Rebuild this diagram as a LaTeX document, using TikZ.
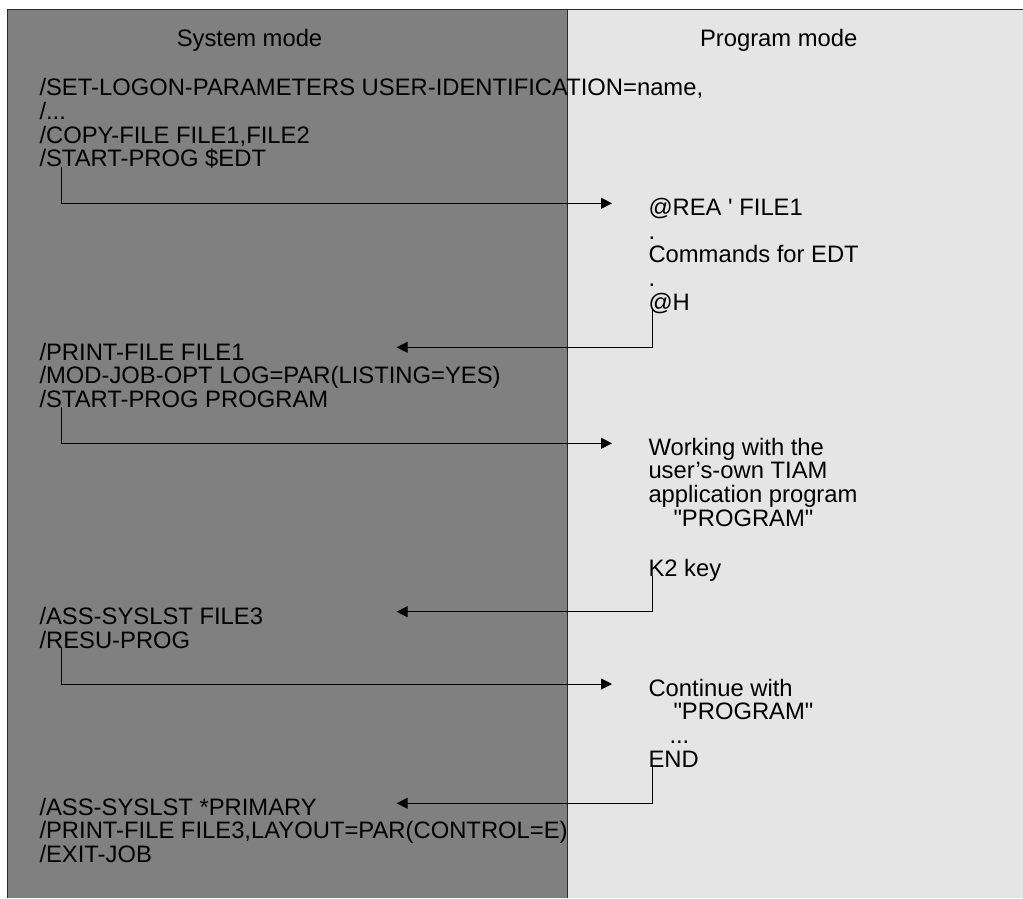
\documentclass[tikz,border=0pt]{standalone}
\usepackage{fontspec}
\setmainfont{Liberation Sans}
\usetikzlibrary{arrows.meta}
\definecolor{sysgray}{HTML}{808080}
\definecolor{proggray}{HTML}{E5E5E5}
\definecolor{rulegray}{HTML}{2A2A2A}

\begin{document}
\begin{tikzpicture}[x=1pt,y=-1pt,line width=1pt,>={Triangle[length=11pt,width=11pt]},
  txt/.style={anchor=base west,inner sep=0pt,font=\fontsize{23.8}{24}\selectfont},
  head/.style={anchor=base,inner sep=0pt,font=\fontsize{23.8}{24}\selectfont},
  flow/.style={->,line width=1pt}]
\useasboundingbox (0,0) rectangle (1023,898);
% ---------- panels ----------
\fill[sysgray] (7,9) rectangle (567,898);
\fill[proggray] (567,9) rectangle (1023,898);
\draw[rulegray,line width=1.7pt] (7,9.5) -- (1023,9.5);
\draw[rulegray,line width=1pt] (7.3,9) -- (7.3,898);
\draw[rulegray,line width=1pt] (567,9) -- (567,898);
\node[head] (sysmode) at (249.5,46.7) {System mode};
\node[head] (progmode) at (778.7,46.7) {Program mode};
% ---------- system mode commands ----------
\node[txt] (logon) at (39,95.7) {/SET-LOGON-PARAMETERS USER-IDENTIFICATION=name,};
\node[txt] (more) at (39,119.4) {/...};
\node[txt] (copy) at (39,143.1) {/COPY-FILE FILE1,FILE2};
\node[txt] (startedt) at (39,166.8) {/START-PROG \$EDT};
\node[txt] (printa) at (39,360) {/PRINT-FILE FILE1};
\node[txt] (modjob) at (39,383.7) {/MOD-JOB-OPT LOG=PAR(LISTING=YES)};
\node[txt] (startprog) at (39,407.4) {/START-PROG PROGRAM};
\node[txt] (asslst) at (39,624.5) {/ASS-SYSLST FILE3};
\node[txt] (resu) at (39,648.2) {/RESU-PROG};
\node[txt] (assprim) at (39,815) {/ASS-SYSLST *PRIMARY};
\node[txt] (printb) at (39,838.7) {/PRINT-FILE FILE3,LAYOUT=PAR(CONTROL=E)};
\node[txt] (exitjob) at (39,862.4) {/EXIT-JOB};
% ---------- program mode ----------
\node[txt] (rea) at (648,215.3) {@REA \textquotesingle\ FILE1};
\node[txt] (dota) at (648,239) {.};
\node[txt] (edtcmd) at (648,262.7) {Commands for EDT};
\node[txt] (dotb) at (648,286.4) {.};
\node[txt] (halt) at (648,310.1) {@H};
\node[txt] (work) at (648,455) {Working with the};
\node[txt] (own) at (648,478.7) {user’s-own TIAM};
\node[txt] (appl) at (648,502.4) {application program};
\node[txt] (proga) at (673,526.1) {\textquotedbl PROGRAM\textquotedbl};
\node[txt] (ktwo) at (648,576) {K2 key};
\node[txt] (cont) at (648,696) {Continue with};
\node[txt] (progb) at (673,719.7) {\textquotedbl PROGRAM\textquotedbl};
\node[txt] (ellip) at (669,743.4) {...};
\node[txt] (endp) at (648,767) {END};
% ---------- mode changes ----------
\coordinate (backa) at (396.7,347.3);
\coordinate (backb) at (396.7,611.7);
\coordinate (backc) at (396.7,803.3);
\draw[flow] ([xshift=22pt]startedt.base west) |- ([xshift=-36pt,yshift=12pt]rea.base west);
\draw[flow] ([xshift=4.3pt]halt.base west) |- (backa);
\draw[flow] ([xshift=22pt]startprog.base west) |- ([xshift=-36pt,yshift=11.7pt]work.base west);
\draw[flow] ([xshift=4.3pt]ktwo.base west) |- (backb);
\draw[flow] ([xshift=22pt]resu.base west) |- ([xshift=-36pt,yshift=12pt]cont.base west);
\draw[flow] ([xshift=4.3pt]endp.base west) |- (backc);
\end{tikzpicture}
\end{document}
